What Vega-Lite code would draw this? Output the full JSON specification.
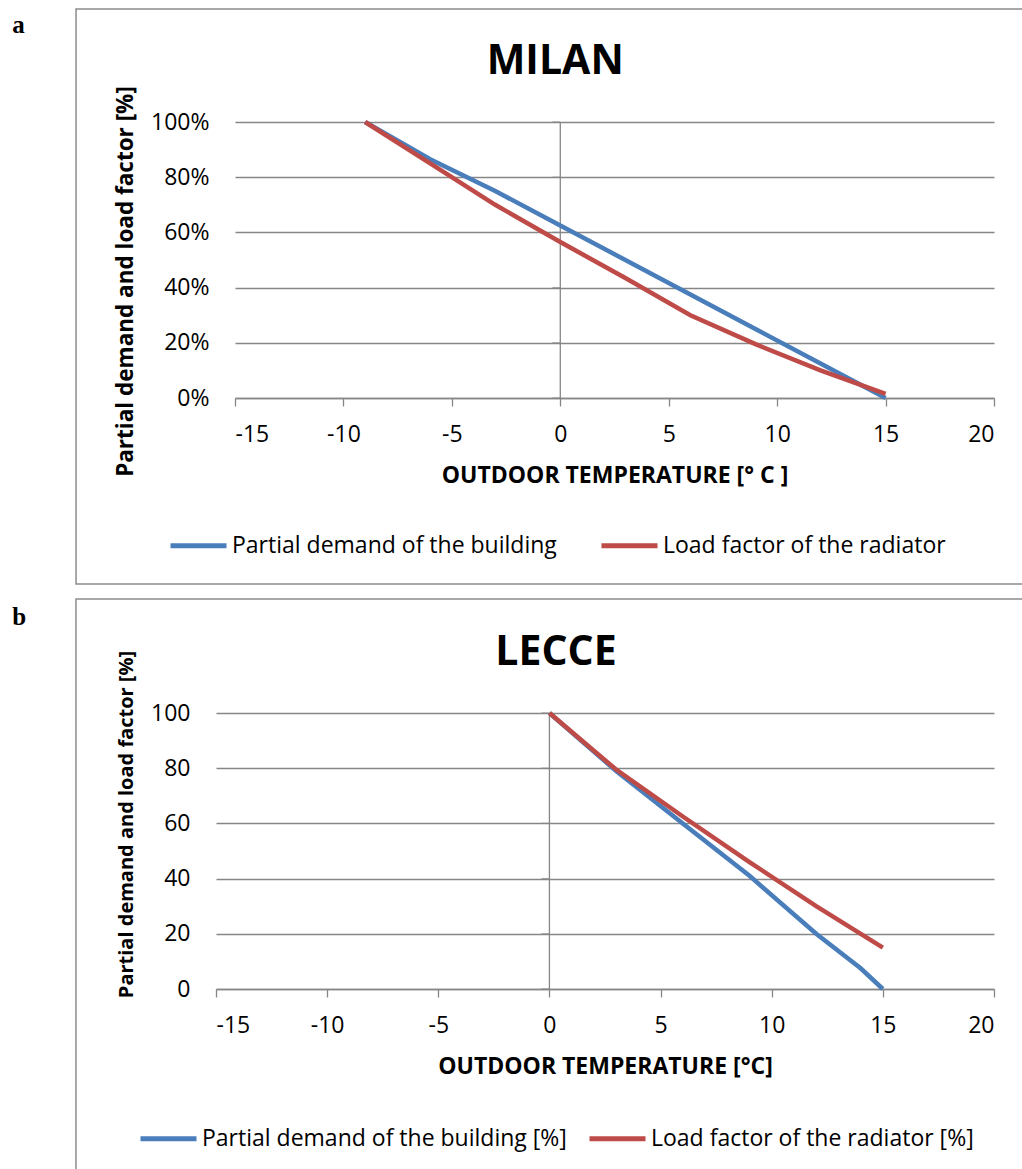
{
  "$schema": "https://vega.github.io/schema/vega-lite/v6.json",
  "background": "white",
  "padding": {"left": 12, "top": 8, "right": 0, "bottom": 0},
  "datasets": {
    "milan": [
      {"T": -9, "value": 100, "series": "Partial demand of the building"},
      {"T": -6, "value": 86.5, "series": "Partial demand of the building"},
      {"T": -3, "value": 75, "series": "Partial demand of the building"},
      {"T": 0, "value": 62.5, "series": "Partial demand of the building"},
      {"T": 3, "value": 50, "series": "Partial demand of the building"},
      {"T": 6, "value": 37.5, "series": "Partial demand of the building"},
      {"T": 9, "value": 25, "series": "Partial demand of the building"},
      {"T": 12, "value": 12.5, "series": "Partial demand of the building"},
      {"T": 15, "value": 0, "series": "Partial demand of the building"},
      {"T": -9, "value": 100, "series": "Load factor of the radiator"},
      {"T": -6, "value": 85, "series": "Load factor of the radiator"},
      {"T": -3, "value": 70, "series": "Load factor of the radiator"},
      {"T": 0, "value": 56.5, "series": "Load factor of the radiator"},
      {"T": 3, "value": 43.5, "series": "Load factor of the radiator"},
      {"T": 6, "value": 30, "series": "Load factor of the radiator"},
      {"T": 9, "value": 19.5, "series": "Load factor of the radiator"},
      {"T": 12, "value": 10, "series": "Load factor of the radiator"},
      {"T": 15, "value": 1.5, "series": "Load factor of the radiator"}
    ],
    "lecce": [
      {"T": 0, "value": 100, "series": "Partial demand of the building  [%]"},
      {"T": 3, "value": 79, "series": "Partial demand of the building  [%]"},
      {"T": 6, "value": 60, "series": "Partial demand of the building  [%]"},
      {"T": 9, "value": 41, "series": "Partial demand of the building  [%]"},
      {"T": 12, "value": 20, "series": "Partial demand of the building  [%]"},
      {"T": 14, "value": 7.5, "series": "Partial demand of the building  [%]"},
      {"T": 15, "value": 0, "series": "Partial demand of the building  [%]"},
      {"T": 0, "value": 100, "series": "Load factor of the radiator [%]"},
      {"T": 3, "value": 79.5, "series": "Load factor of the radiator [%]"},
      {"T": 6, "value": 62.5, "series": "Load factor of the radiator [%]"},
      {"T": 9, "value": 46, "series": "Load factor of the radiator [%]"},
      {"T": 12, "value": 30, "series": "Load factor of the radiator [%]"},
      {"T": 15, "value": 15, "series": "Load factor of the radiator [%]"}
    ],
    "yticks": [{"v": 0}, {"v": 20}, {"v": 40}, {"v": 60}, {"v": 80}, {"v": 100}]
  },
  "config": {
    "font": "Open Sans",
    "view": {"stroke": null},
    "axis": {
      "labelFont": "Open Sans", "labelFontSize": 23, "labelColor": "black",
      "titleFont": "Open Sans", "titleFontWeight": "bold", "titleColor": "black",
      "domainColor": "#868686", "tickColor": "#868686", "gridColor": "#868686",
      "domainWidth": 1.3, "tickWidth": 1.3, "gridWidth": 1.3, "gridOpacity": 1
    },
    "legend": {
      "labelFont": "Open Sans", "labelFontSize": 23, "labelColor": "black", "labelLimit": 600,
      "symbolType": "stroke", "symbolStrokeWidth": 5, "symbolSize": 3136, "labelOffset": 3, "padding": 0
    },
    "title": {"color": "black"}
  },
  "resolve": {"scale": {"color": "independent", "x": "independent", "y": "independent"}, "legend": {"color": "independent"}},
  "concat": [
    {
      "title": {"text": "a", "anchor": "start", "frame": "bounds", "font": "Liberation Serif", "fontSize": 25, "fontWeight": "bold", "dx": -63, "offset": -30},
      "vconcat": [
        {
          "title": {"text": "MILAN", "font": "Open Sans", "fontSize": 41, "fontWeight": "bold", "offset": -74.5, "dx": 5, "frame": "bounds"},
          "width": 778,
          "height": 276,
          "layer": [
            {
              "data": {"values": [{}]},
              "mark": {"type": "rect", "filled": false, "stroke": "#8c8c8c", "strokeWidth": 1.5},
              "encoding": {
                "x": {"datum": -22.33, "type": "quantitative", "scale": {"domain": [-15, 20], "nice": false, "range": [19, 778]}},
                "x2": {"datum": 21.4},
                "y": {"datum": 140.9, "type": "quantitative", "scale": {"domain": [0, 100], "nice": false}},
                "y2": {"datum": -67.4}
              }
            },
            {
              "data": {"values": [{}]},
              "mark": {"type": "rule", "color": "#868686", "strokeWidth": 1.3},
              "encoding": {
                "x": {"datum": 0, "type": "quantitative", "scale": {"domain": [-15, 20], "nice": false, "range": [19, 778]}},
                "y": {"datum": 0, "type": "quantitative", "scale": {"domain": [0, 100], "nice": false}},
                "y2": {"datum": 100}
              }
            },
            {
              "data": {"name": "yticks"},
              "mark": {"type": "tick", "orient": "horizontal", "color": "#868686", "size": 8, "thickness": 1.3, "xOffset": -4},
              "encoding": {
                "x": {"datum": 0, "type": "quantitative", "scale": {"domain": [-15, 20], "nice": false, "range": [19, 778]}},
                "y": {"field": "v", "type": "quantitative", "scale": {"domain": [0, 100], "nice": false}}
              }
            },
            {
              "data": {"name": "milan"},
              "mark": {"type": "line", "strokeWidth": 4.5},
              "encoding": {
                "x": {
                  "field": "T", "type": "quantitative",
                  "scale": {"domain": [-15, 20], "nice": false, "range": [19, 778]},
                  "axis": {"values": [-15, -10, -5, 0, 5, 10, 15, 20], "labelExpr": "'' + datum.value", "grid": false, "tickSize": 8, "labelPadding": 17,
                           "title": "OUTDOOR TEMPERATURE [° C ]", "titleFontSize": 23, "titlePadding": 18}
                },
                "y": {
                  "field": "value", "type": "quantitative",
                  "scale": {"domain": [0, 100], "nice": false},
                  "axis": {"values": [0, 20, 40, 60, 80, 100], "labelExpr": "datum.value + '%'", "domain": false, "ticks": false,
                           "grid": true, "labelPadding": 7, "title": "Partial demand and load factor [%]", "titleFontSize": 22.5,
                           "titlePadding": 13, "titleY": 159}
                },
                "color": {
                  "field": "series", "type": "nominal",
                  "scale": {"domain": ["Partial demand of the building", "Load factor of the radiator"], "range": ["#4A7EBB", "#BE4B48"]},
                  "legend": {"orient": "none", "legendX": -48, "legendY": 393, "direction": "horizontal", "title": null, "columnPadding": 34}
                }
              }
            }
          ]
        }
      ]
    },
    {
      "title": {"text": "b", "anchor": "start", "frame": "bounds", "font": "Liberation Serif", "fontSize": 25, "fontWeight": "bold", "dx": -63, "offset": -32},
      "vconcat": [
        {
          "title": {"text": "LECCE", "font": "Open Sans", "fontSize": 41, "fontWeight": "bold", "offset": -75.5, "dx": 6, "frame": "bounds"},
          "width": 778,
          "height": 276,
          "layer": [
            {
              "data": {"values": [{}]},
              "mark": {"type": "rect", "filled": false, "stroke": "#8c8c8c", "strokeWidth": 1.5},
              "encoding": {
                "x": {"datum": -21.3, "type": "quantitative", "scale": {"domain": [-15, 20], "nice": false}},
                "x2": {"datum": 21.35},
                "y": {"datum": 141.3, "type": "quantitative", "scale": {"domain": [0, 100], "nice": false}},
                "y2": {"datum": -69.2}
              }
            },
            {
              "data": {"values": [{}]},
              "mark": {"type": "rule", "color": "#868686", "strokeWidth": 1.3},
              "encoding": {
                "x": {"datum": 0, "type": "quantitative", "scale": {"domain": [-15, 20], "nice": false}},
                "y": {"datum": 0, "type": "quantitative", "scale": {"domain": [0, 100], "nice": false}},
                "y2": {"datum": 100}
              }
            },
            {
              "data": {"name": "yticks"},
              "mark": {"type": "tick", "orient": "horizontal", "color": "#868686", "size": 8, "thickness": 1.3, "xOffset": -4},
              "encoding": {
                "x": {"datum": 0, "type": "quantitative", "scale": {"domain": [-15, 20], "nice": false}},
                "y": {"field": "v", "type": "quantitative", "scale": {"domain": [0, 100], "nice": false}}
              }
            },
            {
              "data": {"name": "lecce"},
              "mark": {"type": "line", "strokeWidth": 4.5},
              "encoding": {
                "x": {
                  "field": "T", "type": "quantitative",
                  "scale": {"domain": [-15, 20], "nice": false},
                  "axis": {"values": [-15, -10, -5, 0, 5, 10, 15, 20], "labelExpr": "'' + datum.value", "grid": false, "tickSize": 8, "labelPadding": 17,
                           "title": "OUTDOOR TEMPERATURE [°C]", "titleFontSize": 23, "titlePadding": 18}
                },
                "y": {
                  "field": "value", "type": "quantitative",
                  "scale": {"domain": [0, 100], "nice": false},
                  "axis": {"values": [0, 20, 40, 60, 80, 100], "domain": false, "ticks": false,
                           "grid": true, "labelPadding": 26, "title": "Partial demand and load factor [%]", "titleFontSize": 20,
                           "titlePadding": 14, "titleY": 111}
                },
                "color": {
                  "field": "series", "type": "nominal",
                  "scale": {"domain": ["Partial demand of the building  [%]", "Load factor of the radiator [%]"], "range": ["#4A7EBB", "#BE4B48"]},
                  "legend": {"orient": "none", "legendX": -78, "legendY": 395, "direction": "horizontal", "title": null, "columnPadding": 6}
                }
              }
            }
          ]
        }
      ]
    }
  ],
  "columns": 1,
  "spacing": 13
}
